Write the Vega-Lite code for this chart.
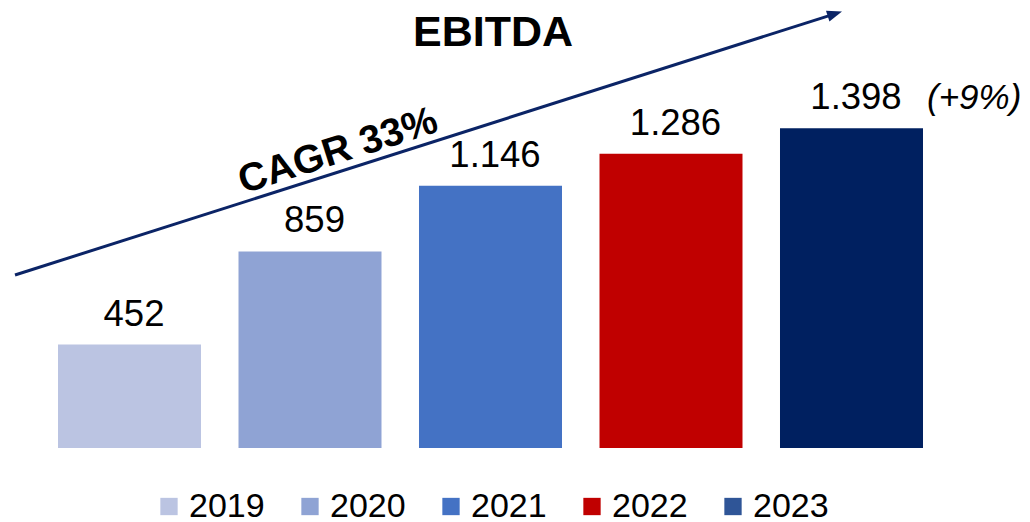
{
  "$schema": "https://vega.github.io/schema/vega-lite/v6.json",
  "width": 1030,
  "height": 388,
  "autosize": {"type": "none"},
  "padding": {"left": 0, "top": 60, "right": 0, "bottom": 74},
  "background": "white",
  "config": {
    "view": {"stroke": null},
    "font": "Liberation Sans",
    "locale": {"number": {"decimal": ",", "thousands": ".", "grouping": [3], "currency": ["", " €"]}}
  },
  "title": {"text": "EBITDA", "fontSize": 43, "fontWeight": "bold", "font": "Liberation Sans", "color": "black", "anchor": "middle", "dx": -22, "dy": 59, "offset": 12},
  "datasets": {
    "ebitda": [
      {"year": 2019, "value": 452},
      {"year": 2020, "value": 859},
      {"year": 2021, "value": 1146},
      {"year": 2022, "value": 1286},
      {"year": 2023, "value": 1398}
    ],
    "trend": [
      {"x": 2018.3657, "y": 756.1},
      {"x": 2022.9078, "y": 1897.7}
    ],
    "cagr": [{"x": 2020.1551, "y": 1298, "text": "CAGR 33%"}],
    "growth": [{"year": 2023, "value": 1398, "text": "(+9%)"}]
  },
  "layer": [
    {
      "data": {"name": "ebitda"},
      "mark": {"type": "bar", "width": 143},
      "encoding": {
        "x": {"field": "year", "type": "quantitative", "scale": {"domain": [2018.28255, 2023.98892], "nice": false, "zero": false, "padding": 0}, "axis": null},
        "y": {"field": "value", "type": "quantitative", "scale": {"domain": [0, 1695.8], "nice": false, "zero": true, "padding": 0}, "axis": null},
        "color": {
          "condition": {"test": "datum.year == 2023", "value": "#002060"},
          "field": "year", "type": "nominal",
          "scale": {"domain": [2019, 2020, 2021, 2022, 2023], "range": ["#bbc4e2", "#8fa3d4", "#4472c4", "#c00000", "#2f5597"]},
          "legend": {
            "title": null, "orient": "none", "legendX": 152, "legendY": 429.5,
            "direction": "horizontal", "columns": 5,
            "symbolType": "square", "symbolSize": 300, "symbolStrokeWidth": 0, "symbolOpacity": 1,
            "labelFontSize": 34, "labelFont": "Liberation Sans", "labelColor": "black",
            "labelOffset": 3, "columnPadding": 28, "padding": 0
          }
        }
      }
    },
    {
      "data": {"name": "ebitda"},
      "mark": {"type": "text", "fontSize": 36.5, "font": "Liberation Sans", "color": "black", "baseline": "alphabetic", "align": "center", "dy": -19, "dx": 4.5},
      "encoding": {
        "x": {"field": "year", "type": "quantitative"},
        "y": {"field": "value", "type": "quantitative"},
        "text": {"field": "value", "type": "quantitative", "format": ",d"}
      }
    },
    {
      "data": {"name": "growth"},
      "mark": {"type": "text", "fontSize": 35, "font": "Liberation Sans", "fontStyle": "italic", "color": "black", "baseline": "alphabetic", "align": "left", "dy": -19, "dx": 75.5},
      "encoding": {
        "x": {"field": "year", "type": "quantitative"},
        "y": {"field": "value", "type": "quantitative"},
        "text": {"field": "text", "type": "nominal"}
      }
    },
    {
      "data": {"name": "trend"},
      "mark": {"type": "line", "color": "#0b2466", "strokeWidth": 3},
      "encoding": {
        "x": {"field": "x", "type": "quantitative"},
        "y": {"field": "y", "type": "quantitative"}
      }
    },
    {
      "data": {"name": "trend"},
      "transform": [{"filter": "datum.y > 1000"}],
      "mark": {"type": "point", "shape": "M-1,-0.75L1,0L-1,0.75Z", "filled": true, "size": 225, "angle": -17.67, "color": "#0b2466", "opacity": 1, "strokeWidth": 0},
      "encoding": {
        "x": {"field": "x", "type": "quantitative"},
        "y": {"field": "y", "type": "quantitative"}
      }
    },
    {
      "data": {"name": "cagr"},
      "mark": {"type": "text", "fontSize": 39.5, "font": "Liberation Sans", "fontWeight": "bold", "color": "black", "baseline": "middle", "align": "center", "angle": -17.67},
      "encoding": {
        "x": {"field": "x", "type": "quantitative"},
        "y": {"field": "y", "type": "quantitative"},
        "text": {"field": "text", "type": "nominal"}
      }
    }
  ]
}
